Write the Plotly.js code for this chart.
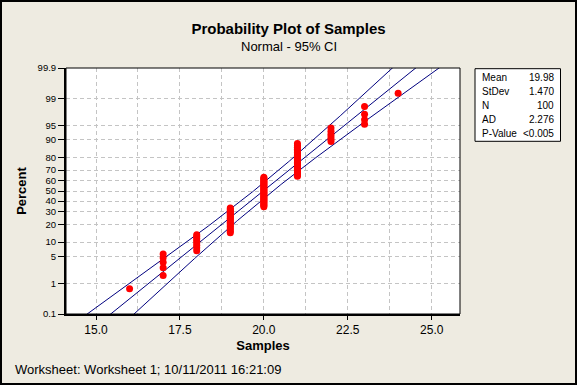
<!DOCTYPE html>
<html><head><meta charset="utf-8">
<script src="https://cdn.plot.ly/plotly-3.0.1.min.js"></script>
<style>
html,body{margin:0;padding:0;background:#EEEBE1;}
#wrap{position:relative;width:577px;height:385px;}
#chart{width:577px;height:385px;}
#frame{position:absolute;left:0;top:0;width:577px;height:385px;box-sizing:border-box;border:2px solid #000;pointer-events:none;}
</style></head><body>
<div id="wrap"><div id="chart"></div><div id="frame"></div></div>
<script>
// ---- data ----
const sampleValues = [16, 17, 18, 19, 20, 21, 22, 23, 24];
const sampleCounts = [1, 5, 8, 20, 30, 25, 6, 4, 1];
const percentTicks = [0.1, 1, 5, 10, 20, 30, 40, 50, 60, 70, 80, 90, 95, 99, 99.9];
const percentTickLabels = ['0.1','1','5','10','20','30','40','50','60','70','80','90','95','99','99.9'];
const xTickVals = [15, 17.5, 20, 22.5, 25];
const xTickLabels = ['15.0','17.5','20.0','22.5','25.0'];
const statLabels = ['Mean','StDev','N','AD','P-Value'];
const statValues = ['19.98','1.470','100','2.276','<0.005'];
const ciLevel = 0.95;

// inverse standard normal CDF (Acklam)
function norminv(p){
 const a=[-3.969683028665376e+01,2.209460984245205e+02,-2.759285104469687e+02,1.383577518672690e+02,-3.066479806614716e+01,2.506628277459239e+00];
 const b=[-5.447609879822406e+01,1.615858368580409e+02,-1.556989798598866e+02,6.680131188771972e+01,-1.328068155288572e+01];
 const c=[-7.784894002430293e-03,-3.223964580411365e-01,-2.400758277161838e+00,-2.549732539343734e+00,4.374664141464968e+00,2.938163982698783e+00];
 const d=[7.784695709041462e-03,3.224671290700398e-01,2.445134137142996e+00,3.754408661907416e+00];
 const pl=0.02425, ph=1-pl; let q,r;
 if(p<pl){q=Math.sqrt(-2*Math.log(p));return (((((c[0]*q+c[1])*q+c[2])*q+c[3])*q+c[4])*q+c[5])/((((d[0]*q+d[1])*q+d[2])*q+d[3])*q+1);}
 if(p>ph){q=Math.sqrt(-2*Math.log(1-p));return -(((((c[0]*q+c[1])*q+c[2])*q+c[3])*q+c[4])*q+c[5])/((((d[0]*q+d[1])*q+d[2])*q+d[3])*q+1);}
 q=p-0.5;r=q*q;return (((((a[0]*r+a[1])*r+a[2])*r+a[3])*r+a[4])*r+a[5])*q/(((((b[0]*r+b[1])*r+b[2])*r+b[3])*r+b[4])*r+1);
}

// expand samples
const samples = [];
sampleValues.forEach((v,i)=>{ for(let k=0;k<sampleCounts[i];k++) samples.push(v); });
samples.sort((a,b)=>a-b);
const n = samples.length;
const mean = samples.reduce((s,v)=>s+v,0)/n;
const sd = Math.sqrt(samples.reduce((s,v)=>s+(v-mean)*(v-mean),0)/(n-1));
const pctPos = samples.map((v,i)=>100*((i+1)-0.3)/(n+0.4));
const zPos = pctPos.map(p=>norminv(p/100));

// fitted line and CI bands
const zc = norminv(1-(1-ciLevel)/2);
const zGrid = [], fitX = [], loX = [], hiX = [];
for(let z=-3.4; z<=3.4001; z+=0.02){
  zGrid.push(z);
  const xp = mean + z*sd;
  const h = zc*sd*Math.sqrt(1/n + z*z/(2*n));
  fitX.push(xp); loX.push(xp-h); hiX.push(xp+h);
}

const lineStyle = {color:'#00007F', width:1};
const traces = [
  {x:fitX, y:zGrid, mode:'lines', line:lineStyle, hoverinfo:'skip'},
  {x:loX, y:zGrid, mode:'lines', line:lineStyle, hoverinfo:'skip'},
  {x:hiX, y:zGrid, mode:'lines', line:lineStyle, hoverinfo:'skip'},
  {x:samples, y:zPos, mode:'markers', marker:{color:'#FF0000', size:7, line:{width:0}},
   customdata:pctPos, hovertemplate:'%{x}, %{customdata:.1f}%<extra></extra>'}
];

// layout geometry (pixels)
const L=66, R=460, T=68, B=314;
const px = x=>(x-L)/(R-L), py = y=>(B-y)/(B-T);
const gridCol = '#C4C4C4', gridDash = '4px,3px';

const annotations = [
  {text:'Normal - 95% CI', xref:'paper', yref:'paper', x:px(288.5), y:py(46), showarrow:false, font:{size:13}, xanchor:'center', yanchor:'middle'},
  {text:'Worksheet: Worksheet 1; 10/11/2011 16:21:09', xref:'paper', yref:'paper', x:px(13), y:py(369), showarrow:false, font:{size:13}, xanchor:'left', yanchor:'middle'}
];
statLabels.forEach((lab,i)=>{
  const yy = 77.5 + i*14;
  annotations.push({text:lab, xref:'paper', yref:'paper', x:px(480), y:py(yy), showarrow:false, font:{size:10}, xanchor:'left', yanchor:'middle'});
  annotations.push({text:statValues[i], xref:'paper', yref:'paper', x:px(556), y:py(yy), showarrow:false, font:{size:10}, xanchor:'right', yanchor:'middle'});
});

const layout = {
  width:577, height:385,
  margin:{l:L, r:577-R, t:T, b:385-B},
  paper_bgcolor:'#EEEBE1', plot_bgcolor:'#FFFFFF',
  font:{family:'"Liberation Sans", Arial, sans-serif', color:'#000'},
  showlegend:false,
  title:{text:'<b>Probability Plot of Samples</b>', font:{size:15}, x:0.5, xref:'container', xanchor:'center', y:1-29/385, yref:'container', yanchor:'middle'},
  xaxis:{range:[14.106, 25.843], tickvals:xTickVals, ticktext:xTickLabels, ticks:'outside', ticklen:4, tickcolor:'#000',
    showline:true, linecolor:'#000', linewidth:2, zeroline:false,
    showgrid:true, gridcolor:gridCol, griddash:gridDash, gridwidth:1,
    minor:{dtick:1.25, tick0:0, showgrid:true, gridcolor:gridCol, griddash:gridDash, ticks:''},
    tickfont:{size:12}, title:{text:'<b>Samples</b>', font:{size:13}, standoff:4}, fixedrange:true},
  yaxis:{range:[norminv(0.001), norminv(0.999)], tickvals:percentTicks.map(p=>norminv(p/100)), ticktext:percentTickLabels,
    ticks:'outside', ticklen:6, tickcolor:'#000', showline:true, linecolor:'#000', linewidth:2, zeroline:false,
    showgrid:true, gridcolor:gridCol, griddash:gridDash, gridwidth:1,
    tickfont:{size:9.5}, title:{text:'<b>Percent</b>', font:{size:13}, standoff:8}, fixedrange:true},
  shapes:[
    {type:'rect', xref:'paper', yref:'paper', x0:0, x1:1, y0:0, y1:1, line:{color:'#000', width:1}, layer:'above'},
    {type:'rect', xref:'paper', yref:'paper', x0:px(475), x1:px(560.5), y0:py(141.3), y1:py(68.7), line:{color:'#000', width:1}, fillcolor:'#FFFFFF', layer:'below'}
  ],
  annotations:annotations
};

Plotly.newPlot('chart', traces, layout, {displayModeBar:false, staticPlot:false});
</script>
</body></html>
